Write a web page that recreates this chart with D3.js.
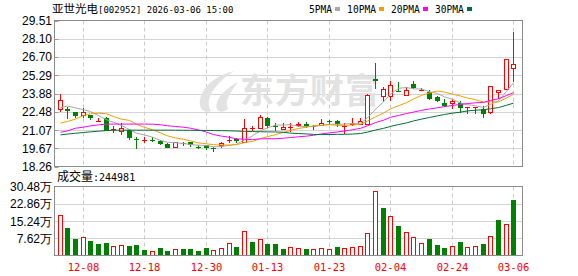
<!DOCTYPE html>
<html><head><meta charset="utf-8">
<script src="https://cdn.jsdelivr.net/npm/d3@7"></script>
<style>body{margin:0;background:#fff}svg{display:block}</style>
</head><body><svg id="c" width="578" height="276"></svg>
<script>
const stockName = "亚世光电";
const stockCode = "[002952] 2026-03-06 15:00";
const dates = ['12-03','12-04','12-05','12-08','12-09','12-10','12-11','12-12','12-15','12-16','12-17','12-18','12-19','12-22','12-23','12-24','12-25','12-26','12-29','12-30','12-31','01-05','01-06','01-07','01-08','01-09','01-12','01-13','01-14','01-15','01-16','01-19','01-20','01-21','01-22','01-23','01-26','01-27','01-28','01-29','01-30','02-02','02-03','02-04','02-05','02-06','02-09','02-10','02-11','02-12','02-13','02-24','02-25','02-26','02-27','03-02','03-03','03-04','03-05','03-06'];
const open  = [22.68,22.67,22.46,22.26,22.22,21.74,21.96,21.12,20.97,21.08,20.41,20.27,20.32,20.26,20.02,19.75,20.04,20.13,19.78,19.92,19.69,19.88,20.29,20.35,20.13,21.20,21.25,22.01,21.35,21.16,21.28,21.47,21.52,21.35,21.49,21.78,21.75,21.35,21.55,21.52,21.51,24.99,23.67,23.71,24.06,23.79,24.62,24.16,23.97,23.58,23.17,23.15,23.19,22.81,22.82,22.68,22.44,23.99,24.23,25.85];
const high  = [23.87,22.82,22.48,22.78,22.25,22.01,22.05,21.37,21.58,21.12,20.52,20.56,20.52,20.34,20.05,20.17,20.15,20.15,19.92,19.94,19.79,20.18,20.62,20.49,21.91,21.39,22.24,22.05,21.60,21.58,21.60,21.68,21.72,21.49,21.93,21.83,21.85,21.65,21.96,22.01,23.82,26.24,24.37,24.82,24.77,24.35,24.87,24.31,24.18,23.71,23.48,23.48,23.29,22.86,22.88,22.90,24.48,24.15,26.58,28.62];
const low   = [22.45,21.91,22.00,21.96,21.86,21.73,20.96,20.83,20.66,20.27,19.64,20.05,20.15,19.95,19.68,19.72,19.84,19.77,19.57,19.50,19.36,19.71,20.10,20.05,20.05,21.03,21.12,21.20,20.97,21.08,20.95,21.29,21.21,21.08,21.45,21.47,21.31,20.75,21.39,21.47,21.48,24.21,23.21,23.27,23.97,23.73,24.23,24.04,23.40,23.22,22.84,22.68,22.42,22.28,22.27,22.03,22.32,23.48,24.20,24.79];
const close = [23.35,22.55,22.18,22.47,21.96,21.76,20.98,21.16,21.24,20.42,20.36,20.29,20.29,20.00,19.71,20.15,20.00,19.88,19.74,19.65,19.65,20.10,20.33,20.19,21.26,21.22,22.09,21.39,21.31,21.28,21.31,21.51,21.29,21.37,21.62,21.74,21.52,21.39,21.59,21.74,23.79,24.85,24.23,24.52,23.99,24.18,24.28,24.19,23.48,23.27,22.94,23.32,22.76,22.84,22.86,22.27,24.45,24.14,26.55,26.16];
// volume in 手
const volume = [177000,120500,71400,83000,62500,49000,53600,43000,47000,40000,44600,22300,21000,31000,22000,30000,27000,27000,22000,31000,25000,34000,56500,35700,110000,58000,74000,49000,49000,27000,35700,31000,27000,27000,31000,27000,35700,31000,35700,43000,101000,286000,210000,173000,129000,106000,83000,56500,71000,44600,31000,40000,58000,35700,40000,49000,88000,156000,141000,244981];
const volUp = [1,0,0,1,0,0,0,1,1,0,0,0,1,0,0,1,0,0,0,0,1,1,1,0,1,0,1,0,0,0,1,1,0,1,1,1,0,1,1,1,1,1,0,1,0,1,1,1,0,0,0,1,0,1,1,0,1,0,1,0];
const ma5  = [22.78,22.92,22.78,22.64,22.50,22.18,21.87,21.67,21.42,21.11,20.83,20.69,20.52,20.27,20.13,20.09,20.03,19.95,19.90,19.88,19.78,19.80,19.89,19.98,20.31,20.62,21.02,21.23,21.45,21.46,21.48,21.36,21.34,21.35,21.42,21.51,21.51,21.53,21.57,21.60,22.01,22.67,23.24,23.83,24.28,24.35,24.24,24.23,24.02,23.88,23.63,23.44,23.15,23.03,22.94,22.81,23.04,23.31,24.05,24.71];
const ma10 = [21.60,21.73,21.91,22.19,22.32,22.37,22.32,22.11,21.91,21.81,21.51,21.28,21.09,20.85,20.62,20.46,20.36,20.23,20.08,20.01,19.94,19.92,19.92,19.94,20.10,20.20,20.41,20.56,20.72,20.88,21.05,21.19,21.29,21.40,21.44,21.49,21.43,21.43,21.46,21.51,21.76,22.09,22.38,22.70,22.94,23.18,23.46,23.74,23.93,24.08,23.99,23.84,23.69,23.53,23.41,23.22,23.24,23.23,23.54,23.83];
const ma20 = [20.90,21.00,21.21,21.29,21.39,21.47,21.52,21.53,21.53,21.53,21.53,21.53,21.52,21.48,21.40,21.34,21.29,21.21,21.08,20.91,20.72,20.60,20.51,20.39,20.36,20.33,20.39,20.40,20.40,20.44,20.49,20.55,20.60,20.67,20.77,20.85,20.92,21.00,21.09,21.20,21.40,21.64,21.83,22.05,22.19,22.34,22.45,22.59,22.69,22.79,22.87,22.97,23.04,23.11,23.17,23.20,23.35,23.48,23.73,23.95];
const ma30 = [20.70,20.76,20.82,20.88,20.93,20.98,21.03,21.05,21.06,21.06,21.06,21.06,21.06,21.06,21.06,21.06,21.05,21.05,21.04,21.04,21.03,21.02,21.01,20.99,20.97,20.95,20.94,20.93,20.92,20.90,20.83,20.80,20.77,20.73,20.72,20.72,20.74,20.74,20.76,20.80,20.91,21.07,21.20,21.35,21.49,21.62,21.77,21.91,22.04,22.16,22.27,22.37,22.45,22.54,22.60,22.63,22.71,22.80,22.98,23.14];
const maNames = ['5PMA','10PMA','20PMA','30PMA'];
const maColors = ['#a8a8a8','#f0a000','#ff00ff','#006f36'];
const priceTicks = [29.51,28.10,26.70,25.29,23.88,22.48,21.07,19.67,18.26];
const volTicks = [30.48,22.86,15.24,7.62];   // 万
const dateTicks = ['12-08','12-18','12-30','01-13','01-23','02-04','02-24','03-06'];

const RED = '#ff0000', GREEN = '#008000';
const L = 54.5, R = 522.5, PT = 20.5, PB = 166.5, VT = 186.5, VB = 255.5;
const svg = d3.select('#c');
const mono = 'DejaVu Sans Mono, Liberation Mono, monospace';
const cjk = 'Noto Sans CJK SC, sans-serif';
const num = 'Liberation Sans, Arial, sans-serif';

const x = d3.scaleBand().domain(dates).range([56.2, 517.8]).paddingInner(0);
const cx = d => Math.floor(x(d) + x.bandwidth() / 2);
const y = d3.scaleLinear().domain([18.26, 29.51]).range([PB, PT]);
const vy = d3.scaleLinear().domain([0, 30.48 * 10000]).range([VB, VT]);
const py = v => Math.round(v) + 0.5;

// header
const hd = svg.append('text').attr('x', 52).attr('y', 13).attr('fill', '#000');
hd.append('tspan').attr('font-family', cjk).attr('font-size', 11.5).text(stockName);
hd.append('tspan').attr('font-family', mono).attr('font-size', 9).text(stockCode);

// legend
let lx = 309;
maNames.forEach((n, i) => {
  svg.append('text').attr('x', lx).attr('y', 12.5).attr('font-family', mono)
    .attr('font-size', 9.6).attr('fill', '#000').text(n);
  const w = n.length * 5.78;
  svg.append('rect').attr('x', Math.round(lx + w + 3)).attr('y', 7).attr('width', 5).attr('height', 4)
    .attr('fill', maColors[i]);
  lx += w + 15;
});

// grid
const gp = svg.append('g');
priceTicks.slice(1, -1).forEach(t => {
  gp.append('line').attr('x1', L).attr('x2', R).attr('y1', py(y(t))).attr('y2', py(y(t)))
    .attr('stroke', '#d4d4d4').attr('stroke-width', 1);
});
volTicks.slice(1).forEach(t => {
  gp.append('line').attr('x1', L).attr('x2', R).attr('y1', py(vy(t * 10000))).attr('y2', py(vy(t * 10000)))
    .attr('stroke', '#d4d4d4').attr('stroke-width', 1);
});
dateTicks.forEach(d => {
  const xx = cx(d) + 0.5;
  [[PT, PB], [VT, VB]].forEach(([a, b]) => {
    gp.append('line').attr('x1', xx).attr('x2', xx).attr('y1', a).attr('y2', b)
      .attr('stroke', '#cccccc').attr('stroke-dasharray', '4,3');
  });
  svg.append('text').attr('x', xx).attr('y', 271).attr('text-anchor', 'middle')
    .attr('font-family', mono).attr('font-size', 10.5).attr('fill', RED).text(d);
});

// watermark
const wm = svg.append('g').attr('fill', '#e2e2e2');
wm.append('path').attr('d', 'M234 71 C214 76 198 90 200 105 C201 111 206 113 211 111 C204 100 214 84 234 71 Z');
wm.append('path').attr('d', 'M238 82 C225 89 214 100 217 109 C219 113 224 112 228 109 C224 101 231 91 238 82 Z');
wm.append('text').attr('x', 240).attr('y', 103).attr('font-family', cjk).attr('font-weight', 'bold')
  .attr('font-size', 34).attr('letter-spacing', 1).text('东方财富');

// y labels
priceTicks.forEach(t => {
  svg.append('text').attr('x', 52).attr('y', y(t) + 4.5).attr('text-anchor', 'end')
    .attr('font-family', num).attr('font-size', 12).attr('fill', '#000').text(t.toFixed(2));
  svg.append('line').attr('x1', L).attr('x2', L + 4).attr('y1', py(y(t))).attr('y2', py(y(t))).attr('stroke', '#999');
});
volTicks.forEach(t => {
  svg.append('text').attr('x', 52).attr('y', vy(t * 10000) + 4.5).attr('text-anchor', 'end')
    .attr('font-family', num).attr('font-size', 12).attr('fill', '#000').text(t.toFixed(2) + '万');
});
const vt = svg.append('text').attr('x', 57).attr('y', 181).attr('fill', '#000');
vt.append('tspan').attr('font-family', cjk).attr('font-size', 12).text('成交量');
vt.append('tspan').attr('font-family', mono).attr('font-size', 10).text(':' + volume[volume.length - 1]);

// candles
svg.append('clipPath').attr('id', 'pc').append('rect').attr('x', L).attr('y', PT).attr('width', R - L).attr('height', PB - PT);
const cg = svg.append('g').attr('clip-path', 'url(#pc)');
dates.forEach((d, i) => {
  const c = cx(d), o = open[i], cl = close[i];
  const up = cl >= o;
  const col = up ? RED : GREEN;
  const top = Math.round(y(Math.max(o, cl))), bot = Math.round(y(Math.min(o, cl)));
  const yh = Math.round(y(high[i])), yl = Math.round(y(low[i]));
  if (up) {
    if (yh < top) cg.append('line').attr('x1', c + .5).attr('x2', c + .5).attr('y1', yh).attr('y2', top).attr('stroke', col);
    if (yl > bot) cg.append('line').attr('x1', c + .5).attr('x2', c + .5).attr('y1', bot + 1).attr('y2', yl).attr('stroke', col);
    if (bot - top >= 1) {
      cg.append('rect').attr('x', c - 1.5).attr('y', top + .5).attr('width', 4).attr('height', bot - top)
        .attr('fill', '#fff').attr('stroke', col);
    } else {
      cg.append('rect').attr('x', c - 2).attr('y', top).attr('width', 5).attr('height', 1).attr('fill', col);
    }
  } else {
    cg.append('line').attr('x1', c + .5).attr('x2', c + .5).attr('y1', yh).attr('y2', yl).attr('stroke', col);
    cg.append('rect').attr('x', c - 2).attr('y', top).attr('width', 5).attr('height', Math.max(bot - top, 1)).attr('fill', col);
  }
});

// MA lines
[ma5, ma10, ma20, ma30].forEach((arr, k) => {
  const line = d3.line().x((v, i) => cx(dates[i]) + 0.5).y(v => y(v));
  cg.append('path').attr('d', line(arr)).attr('fill', 'none').attr('stroke', maColors[k]).attr('stroke-width', 1);
});

// volume bars
dates.forEach((d, i) => {
  const c = cx(d);
  const t = Math.round(vy(volume[i]));
  if (volUp[i]) {
    svg.append('rect').attr('x', c - 1.5).attr('y', t + .5).attr('width', 4).attr('height', VB - t - 0.5)
      .attr('fill', '#fff').attr('stroke', RED);
  } else {
    svg.append('rect').attr('x', c - 2).attr('y', t).attr('width', 5).attr('height', VB - t).attr('fill', GREEN);
  }
});

// borders
[[PT, PB], [VT, VB]].forEach(([a, b]) => {
  svg.append('rect').attr('x', L).attr('y', a).attr('width', R - L).attr('height', b - a)
    .attr('fill', 'none').attr('stroke', '#8c8c8c');
});
</script></body></html>
